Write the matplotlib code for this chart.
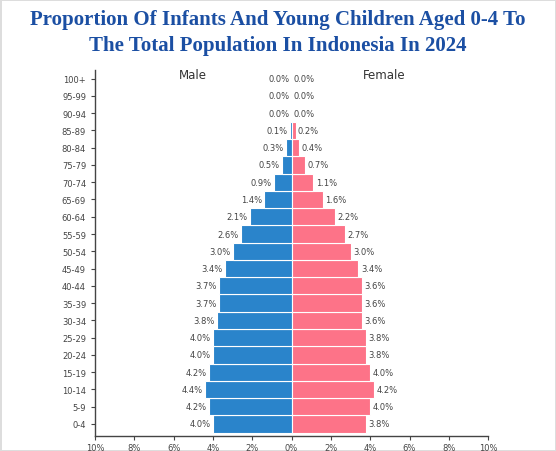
import matplotlib.pyplot as plt
import numpy as np

# Age groups from youngest to oldest
age_groups = ['0-4', '5-9', '10-14', '15-19', '20-24', '25-29', '30-34', '35-39',
              '40-44', '45-49', '50-54', '55-59', '60-64', '65-69', '70-74', '75-79',
              '80-84', '85-89', '90-94', '95-99', '100+']
male = [4.0, 4.2, 4.4, 4.2, 4.0, 4.0, 3.8, 3.7, 3.7, 3.4, 3.0, 2.6, 2.1, 1.4, 0.9, 0.5,
        0.3, 0.1, 0.0, 0.0, 0.0]
female = [3.8, 4.0, 4.2, 4.0, 3.8, 3.8, 3.6, 3.6, 3.6, 3.4, 3.0, 2.7, 2.2, 1.6, 1.1, 0.7,
          0.4, 0.2, 0.0, 0.0, 0.0]
x_ticks = [-10, -8, -6, -4, -2, 0, 2, 4, 6, 8, 10]

title = 'Proportion Of Infants And Young Children Aged 0-4 To\nThe Total Population In Indonesia In 2024'

fig = plt.figure(figsize=(5.56, 4.52), dpi=100)
fig.patch.set_edgecolor('#dddddd')
fig.patch.set_linewidth(2)

ax = fig.add_axes([0.171, 0.033, 0.707, 0.810])

y = np.arange(len(age_groups))
ax.barh(y, [-v for v in male], height=1.0, color='#2a84cb', edgecolor='white', linewidth=0.8)
ax.barh(y, female, height=1.0, color='#fd7388', edgecolor='white', linewidth=0.8)

# value labels
for i in range(len(age_groups)):
    ax.text(-male[i] - 0.12, y[i], f'{male[i]:.1f}%', ha='right', va='center',
            fontsize=6, color='#444444')
    ax.text(female[i] + 0.12, y[i], f'{female[i]:.1f}%', ha='left', va='center',
            fontsize=6, color='#444444')

ax.set_xlim(-10, 10)
ax.set_ylim(-0.7, 20.5)
ax.set_xticks(x_ticks)
ax.set_xticklabels([f'{abs(t)}%' for t in x_ticks])
ax.set_yticks(y)
ax.set_yticklabels(age_groups)
ax.tick_params(axis='both', labelsize=6, colors='#444444', length=3, width=0.8)
ax.tick_params(axis='x', pad=2)

for s in ['top', 'right']:
    ax.spines[s].set_visible(False)
for s in ['left', 'bottom']:
    ax.spines[s].set_color('#444444')
    ax.spines[s].set_linewidth(1)

ax.text(-5, 20.25, 'Male', ha='center', va='center', fontsize=8.5, color='#333333')
ax.text(4.7, 20.25, 'Female', ha='center', va='center', fontsize=8.5, color='#333333')

fig.text(0.5, 0.927, title, ha='center', va='center', fontsize=15, fontweight='bold',
         family='Liberation Serif', color='#1b4fa3', linespacing=1.4)

plt.savefig('out.png', dpi=100)
